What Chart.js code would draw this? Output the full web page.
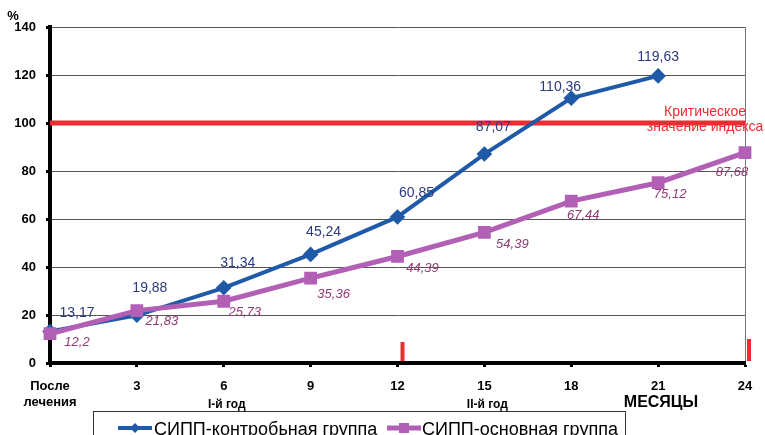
<!doctype html>
<html lang="ru">
<head>
<meta charset="utf-8">
<title>Индекс</title>
<style>
  body { margin: 0; background: #fff; }
  canvas { display: block; }
</style>
<script src="https://cdn.jsdelivr.net/npm/chart.js@4/dist/chart.umd.min.js"></script>
</head>
<body>
<canvas id="indexChart" width="765" height="435"></canvas>
<script>
// x categories (months)
const months = [['После', 'лечения'], '3', '6', '9', '12', '15', '18', '21', '24'];
// СИПП-контробьная группа
const controlGroup = [13.17, 19.88, 31.34, 45.24, 60.85, 87.07, 110.36, 119.63, null];
// СИПП-основная группа
const mainGroup = [12.2, 21.83, 25.73, 35.36, 44.39, 54.39, 67.44, 75.12, 87.68];
// critical value of the index
const criticalValue = 100;
const yTicks = [0, 20, 40, 60, 80, 100, 120, 140];

const FONT = 'Arial, "Liberation Sans", sans-serif';
const blue = '#1f5aa8';
const purple = '#b260b6';
const red = '#ee2b31';

// label offsets (px) relative to point
const controlOffsets = [[27,-18],[13,-27],[14,-25],[13,-22],[19,-24],[9,-27],[-11,-11],[0,-19]];
const mainOffsets = [[27,9],[25,11],[21,11],[23,16],[25,12],[28,12],[12,14],[12,12],[-13,20]];

function fmt(v) { return String(v).replace('.', ','); }

const extras = {
  id: 'extras',
  beforeDatasetsDraw(chart) {
    const c = chart.ctx;
    const y = chart.scales.y;
    c.save();
    c.fillStyle = red;
    c.font = '14px ' + FONT;
    c.textAlign = 'center';
    c.textBaseline = 'middle';
    c.fillText('Критическое', 705, y.getPixelForValue(criticalValue) - 11);
    c.fillText('значение индекса', 705, y.getPixelForValue(criticalValue) + 4);
    c.restore();
  },
  afterDatasetsDraw(chart) {
    const c = chart.ctx;
    const x = chart.scales.x, y = chart.scales.y;
    c.save();
    c.textAlign = 'center';
    c.textBaseline = 'middle';
    c.font = '14px ' + FONT;
    c.fillStyle = '#2b3a7e';
    controlGroup.forEach((v, i) => {
      if (v == null) return;
      const o = controlOffsets[i];
      c.fillText(fmt(v), x.getPixelForValue(i) + o[0], y.getPixelForValue(v) + o[1]);
    });
    c.font = 'italic 13px ' + FONT;
    c.fillStyle = '#8e3b72';
    mainGroup.forEach((v, i) => {
      const o = mainOffsets[i];
      c.fillText(fmt(v), x.getPixelForValue(i) + o[0], y.getPixelForValue(v) + o[1]);
    });
    c.restore();
  },
  afterDraw(chart) {
    const c = chart.ctx;
    const x = chart.scales.x;
    const area = chart.chartArea;
    c.save();
    // red marks at year ends
    c.fillStyle = red;
    c.fillRect(x.getPixelForValue(4) + 3, area.bottom - 21, 4, 19);
    c.fillRect(x.getPixelForValue(8) + 2, area.bottom - 24, 4, 22);

    c.fillStyle = '#000';
    c.textAlign = 'center';
    c.textBaseline = 'middle';
    c.font = 'bold 13px ' + FONT;
    c.fillText('%', 13, 16);
    c.font = 'bold 12px ' + FONT;
    c.fillText('I-й год', x.getPixelForValue(2) + 3, 405);
    c.fillText('II-й год', x.getPixelForValue(5) + 3, 405);
    c.font = 'bold 16px ' + FONT;
    c.fillText('МЕСЯЦЫ', 661, 403);

    // legend box
    c.strokeStyle = '#333';
    c.lineWidth = 1;
    c.strokeRect(93.5, 411.5, 532, 40);
    c.textAlign = 'left';
    c.font = '18px ' + FONT;
    c.fillStyle = '#000';
    c.fillText('СИПП-контробьная группа', 154, 430);
    c.fillText('СИПП-основная группа', 422, 430);
    c.lineWidth = 4;
    c.strokeStyle = blue;
    c.beginPath(); c.moveTo(118, 428); c.lineTo(152, 428); c.stroke();
    c.fillStyle = blue;
    c.beginPath(); c.moveTo(135, 423); c.lineTo(140, 428); c.lineTo(135, 433); c.lineTo(130, 428); c.closePath(); c.fill();
    c.lineWidth = 5;
    c.strokeStyle = purple;
    c.beginPath(); c.moveTo(387, 428); c.lineTo(421, 428); c.stroke();
    c.fillStyle = purple;
    c.fillRect(399, 423, 10, 10);
    c.restore();
  }
};

new Chart(document.getElementById('indexChart'), {
  type: 'line',
  data: {
    labels: months,
    datasets: [
      {
        label: 'СИПП-контробьная группа',
        data: controlGroup,
        borderColor: blue,
        backgroundColor: blue,
        borderWidth: 4,
        pointStyle: 'rectRot',
        pointRadius: 5,
        tension: 0,
        order: 2
      },
      {
        label: 'СИПП-основная группа',
        data: mainGroup,
        borderColor: purple,
        backgroundColor: purple,
        borderWidth: 5,
        pointStyle: 'rect',
        pointRadius: 5.5,
        tension: 0,
        order: 1
      },
      {
        label: 'Критическое значение индекса',
        data: months.map(() => criticalValue),
        borderColor: red,
        borderWidth: 5,
        pointRadius: 0,
        order: 3
      }
    ]
  },
  options: {
    responsive: false,
    animation: false,
    layout: { padding: { top: 27, right: 20, bottom: 0, left: 0 } },
    plugins: { legend: { display: false }, tooltip: { enabled: false } },
    scales: {
      x: {
        offset: false,
        border: { color: '#000', width: 4 },
        grid: {
          color: ctx => ctx.index === months.length - 1 ? '#777' : 'rgba(0,0,0,0)',
          tickColor: '#000',
          tickLength: 4,
          tickWidth: 3
        },
        ticks: {
          color: '#000',
          font: { family: FONT, size: 13, weight: 'bold' },
          padding: 12,
          maxRotation: 0,
          autoSkip: false
        },
        afterFit(scale) { scale.height = 72; }
      },
      y: {
        min: 0,
        max: 140,
        border: { color: '#000', width: 4 },
        grid: {
          color: '#555',
          lineWidth: 1,
          tickColor: '#000',
          tickLength: 4,
          tickWidth: 3
        },
        afterBuildTicks(scale) { scale.ticks = yTicks.map(v => ({ value: v })); },
        ticks: {
          color: '#000',
          font: { family: FONT, size: 13, weight: 'bold' },
          padding: 10
        },
        afterFit(scale) { scale.width = 50; }
      }
    }
  },
  plugins: [extras]
});
</script>
</body>
</html>
